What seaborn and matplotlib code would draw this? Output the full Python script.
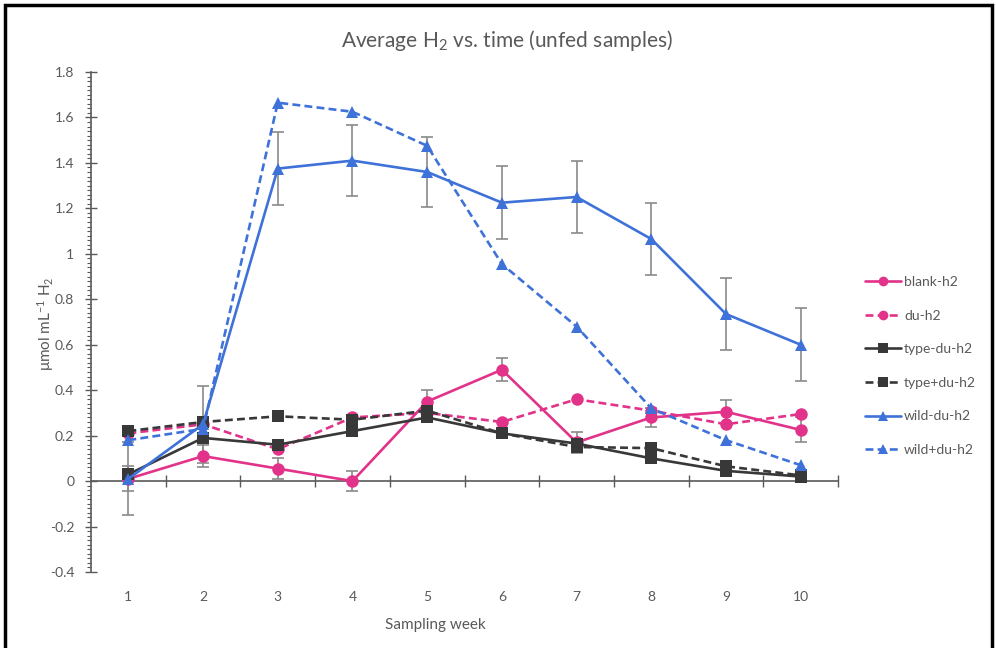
#! /usr/bin/env python3
# coding: utf-8
"""
Average H2 vs. time for the unfed samples, Excel-like line chart

Output:
  - out.png
"""
import numpy as np
import pandas as pd
import matplotlib.pyplot as plt
import seaborn as sb
from matplotlib.patches import Rectangle
from matplotlib.ticker import MultipleLocator

weeks = [1, 2, 3, 4, 5, 6, 7, 8, 9, 10]
series_names = ['blank-h2', 'du-h2', 'type-du-h2', 'type+du-h2', 'wild-du-h2', 'wild+du-h2']

blank_h2 = [0.01, 0.11, 0.055, 0.0, 0.35, 0.49, 0.17, 0.28, 0.305, 0.225]
du_h2 = [0.21, 0.25, 0.14, 0.28, 0.30, 0.26, 0.36, 0.31, 0.25, 0.295]
type_du_h2 = [0.03, 0.19, 0.16, 0.22, 0.28, 0.21, 0.165, 0.10, 0.045, 0.02]
type_plus_du_h2 = [0.22, 0.26, 0.285, 0.27, 0.31, 0.21, 0.15, 0.145, 0.065, 0.025]
wild_du_h2 = [0.01, 0.25, 1.375, 1.41, 1.36, 1.225, 1.25, 1.065, 0.735, 0.60]
wild_plus_du_h2 = [0.18, 0.23, 1.665, 1.625, 1.475, 0.955, 0.68, 0.32, 0.18, 0.07]

blank_err = [0.055, 0.05, 0.045, 0.045, 0.05, 0.05, 0.045, 0.04, 0.05, 0.055]
wild_du_err = [0.16, 0.17, 0.16, 0.155, 0.155, 0.16, 0.16, 0.16, 0.16, 0.16]

MAGENTA = '#E2338A'
DARK = '#383838'
BLUE = '#3F72D9'
GRAY = '#595959'


def build_frame() -> pd.DataFrame:
    values = [blank_h2, du_h2, type_du_h2, type_plus_du_h2, wild_du_h2, wild_plus_du_h2]
    frames = [pd.DataFrame({'week': weeks, 'h2': v, 'series': name})
              for name, v in zip(series_names, values)]
    return pd.concat(frames, ignore_index=True)


if __name__ == '__main__':
    sb.set_style('white')
    plt.rcParams['font.family'] = ['Lato', 'DejaVu Sans']
    plt.rcParams['mathtext.default'] = 'regular'

    data = build_frame()

    fig = plt.figure(figsize=(9.96, 6.48), dpi=100)
    ax = fig.add_axes([0.0914, 0.1173, 0.75, 0.7716])

    palette = dict(zip(series_names, [MAGENTA, MAGENTA, DARK, DARK, BLUE, BLUE]))
    markers = dict(zip(series_names, ['o', 'o', 's', 's', '^', '^']))
    dashes = dict(zip(series_names, ['', (3, 1.6), '', (3, 1.6), '', (3, 1.6)]))

    # error bars first so markers sit on top
    ax.errorbar(weeks, wild_du_h2, yerr=wild_du_err, fmt='none', ecolor='#8a8a8a',
                elinewidth=1.2, capsize=4, capthick=1.2, zorder=1)
    ax.errorbar(weeks, blank_h2, yerr=blank_err, fmt='none', ecolor='#8a8a8a',
                elinewidth=1.2, capsize=4, capthick=1.2, zorder=1)

    sb.lineplot(
        data=data, x='week', y='h2', hue='series', style='series',
        palette=palette, markers=markers, dashes=dashes,
        linewidth=1.9, markersize=9, markeredgewidth=0,
        hue_order=series_names, style_order=series_names,
        ax=ax, zorder=3
    )

    # axes look
    ax.set_xlim(0.5, 10.5)
    ax.set_ylim(-0.4, 1.8)
    ax.yaxis.set_minor_locator(MultipleLocator(0.02))
    ax.set_yticks(np.round(np.arange(-0.4, 1.81, 0.2), 1))
    ax.set_yticklabels(['-0.4', '-0.2', '0', '0.2', '0.4', '0.6', '0.8', '1',
                        '1.2', '1.4', '1.6', '1.8'])
    ax.tick_params(axis='y', which='major', direction='inout', length=8, width=1,
                   color=GRAY, labelcolor=GRAY, labelsize=10, pad=8, left=True)
    ax.tick_params(axis='y', which='minor', direction='out', length=3, width=0.8,
                   color=GRAY, left=True)

    for side in ['top', 'right']:
        ax.spines[side].set_visible(False)
    ax.spines['left'].set_color(GRAY)
    ax.spines['left'].set_linewidth(1.2)
    ax.spines['bottom'].set_position(('data', 0))
    ax.spines['bottom'].set_color(GRAY)
    ax.spines['bottom'].set_linewidth(1.2)

    # category boundary ticks on the zero line, labels at the bottom
    ax.set_xticks(np.arange(1.5, 10.6, 1.0))
    ax.set_xticklabels([])
    ax.tick_params(axis='x', which='major', direction='inout', length=8, width=1,
                   color=GRAY, bottom=True)
    sec = ax.secondary_xaxis(location=0)
    sec.set_xticks(weeks)
    sec.set_xticklabels([str(w) for w in weeks])
    sec.tick_params(length=0, labelcolor=GRAY, labelsize=10, pad=14)
    sec.spines['bottom'].set_visible(False)

    ax.set_xlabel('')
    ax.set_ylabel('')
    fig.text(0.437, 0.035, 'Sampling week', ha='center', va='center', color=GRAY, fontsize=11)
    fig.text(0.046, 0.5, 'μmol mL$^{-1}$ H$_2$', rotation=90, ha='center', va='center',
             color=GRAY, fontsize=11)
    fig.text(0.509, 0.938, 'Average H$_2$ vs. time (unfed samples)', ha='center', va='center',
             color=GRAY, fontsize=15)

    # legend on the right
    handles, labels = ax.get_legend_handles_labels()
    ax.legend_.remove()
    for h in handles:
        h.set_markersize(7)
    leg = fig.legend(handles, labels, loc='center left', bbox_to_anchor=(0.868, 0.435),
                     frameon=False, fontsize=10, handlelength=2.6, labelspacing=1.55,
                     handletextpad=0.25, borderaxespad=0, borderpad=0)
    for txt in leg.get_texts():
        txt.set_color(GRAY)

    # outer black frame of the exported chart
    fig.add_artist(Rectangle((0.005, -0.02), 0.991, 1.012, transform=fig.transFigure,
                             fill=False, edgecolor='black', linewidth=2.5))

    fig.savefig('out.png', dpi=100)
